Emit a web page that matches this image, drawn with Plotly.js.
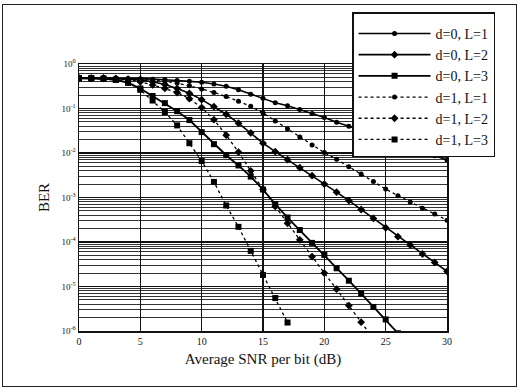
<!DOCTYPE html>
<html>
<head>
<meta charset="utf-8">
<script src="https://cdn.plot.ly/plotly-3.0.1.min.js"></script>
<style>
html,body{margin:0;padding:0;background:#fff;}
#frame{position:absolute;left:2px;top:4px;width:515px;height:383px;border:1.5px solid #222;box-sizing:border-box;pointer-events:none;z-index:5;}
#plot{position:absolute;left:0;top:0;width:521px;height:392px;}
</style>
</head>
<body>
<div id="plot"></div>
<div id="frame"></div>
<script>
// Average SNR per bit (dB)
const snr = [0,1,2,3,4,5,6,7,8,9,10,11,12,13,14,15,16,17,18,19,20,21,22,23,24,25,26,27,28,29,30];

// BER values
const ber_d0_L1 = [0.479,0.479,0.479,0.479,0.468,0.468,0.457,0.447,0.427,0.407,0.389,0.355,0.316,0.263,0.209,0.170,0.135,0.115,0.0955,0.0776,0.0631,0.0490,0.0398,0.0324,0.0263,0.0214,0.0170,0.0138,0.0110,0.00871,0.00692];
const ber_d0_L2 = [0.479,0.479,0.479,0.468,0.457,0.437,0.398,0.347,0.282,0.219,0.158,0.110,0.0741,0.0468,0.0282,0.0166,0.0107,0.00708,0.00468,0.00309,0.00200,0.00132,8.51e-4,5.37e-4,3.39e-4,2.09e-4,1.32e-4,8.51e-5,5.37e-5,3.47e-5,2.19e-5];
const ber_d0_L3 = [0.479,0.479,0.468,0.437,0.380,0.282,0.191,0.132,0.0871,0.0550,0.0295,0.0158,0.00891,0.00525,0.00295,0.00151,7.08e-4,3.55e-4,1.86e-4,9.55e-5,5.13e-5,2.57e-5,1.35e-5,6.92e-6,3.47e-6,1.82e-6,8.91e-7];
const ber_d1_L1 = [0.479,0.479,0.479,0.479,0.468,0.457,0.437,0.407,0.372,0.324,0.275,0.229,0.186,0.145,0.112,0.0794,0.0525,0.0347,0.0229,0.0151,0.0102,0.00724,0.00490,0.00339,0.00229,0.00155,0.00110,7.94e-4,5.75e-4,4.27e-4,3.09e-4];
const ber_d1_L2 = [0.479,0.479,0.479,0.468,0.447,0.398,0.339,0.282,0.229,0.166,0.105,0.0562,0.0251,0.0105,0.00398,0.00151,6.31e-4,2.63e-4,1.12e-4,4.68e-5,2.00e-5,8.71e-6,3.72e-6,1.58e-6,6.76e-7];
const ber_d1_L3 = [0.479,0.479,0.468,0.447,0.380,0.263,0.151,0.0832,0.0417,0.0166,0.00661,0.00224,6.61e-4,2.19e-4,6.31e-5,1.82e-5,5.50e-6,1.55e-6];

const seriesNames = ["d=0, L=1","d=0, L=2","d=0, L=3","d=1, L=1","d=1, L=2","d=1, L=3"];

const xTickVals = [0,5,10,15,20,25,30];
const xTickText = ["0","5","10","15","20","25","30"];
const yTickVals = [1,0.1,0.01,0.001,0.0001,0.00001,0.000001];
const yTickText = ["10<sup>0</sup>","10<sup>-1</sup>","10<sup>-2</sup>","10<sup>-3</sup>","10<sup>-4</sup>","10<sup>-5</sup>","10<sup>-6</sup>"];

const allBer = [ber_d0_L1, ber_d0_L2, ber_d0_L3, ber_d1_L1, ber_d1_L2, ber_d1_L3];
const dashes = ["solid","solid","solid","dot","dot","dot"];
const widths = [1.6,1.6,1.8,1.3,1.3,1.3];
const symbols = ["circle","diamond","square","circle","diamond","square"];
const sizes = [5,6,6,5,6,6];

const traces = allBer.map((b,i)=>({
  x: snr.slice(0,b.length),
  y: b,
  name: seriesNames[i],
  type: "scatter",
  mode: "lines+markers",
  line: {color:"#000", width: widths[i], dash: dashes[i]},
  marker: {color:"#000", symbol: symbols[i], size: sizes[i]},
  cliponaxis: true
}));

const serif = "Liberation Serif, Times New Roman, serif";

const layout = {
  width: 521, height: 392,
  margin: {l:79, r:74, t:62, b:61},
  paper_bgcolor: "#fff",
  plot_bgcolor: "#fff",
  showlegend: true,
  legend: {
    x: 0.742, y: 1.193, xanchor: "left", yanchor: "top",
    bgcolor: "#fff", bordercolor: "#111", borderwidth: 1.5,
    font: {family: serif, size: 14, color: "#111"},
    title: {text: " ", font: {family: serif, size: 3}},
    itemwidth: 72
  },
  xaxis: {
    range: [0,30],
    tickvals: xTickVals, ticktext: xTickText,
    showgrid: true, gridcolor: "#111", gridwidth: 1.5,
    zeroline: false,
    showline: true, linecolor: "#111", linewidth: 1.5, mirror: true,
    ticks: "",
    tickfont: {family: serif, size: 10, color: "#111"},
    title: {text: "Average SNR per bit (dB)", font: {family: serif, size: 15, color: "#111"}, standoff: 8}
  },
  yaxis: {
    type: "log",
    range: [-6, 0],
    tickvals: yTickVals, ticktext: yTickText,
    showgrid: true, gridcolor: "#111", gridwidth: 1.2,
    minor: {dtick: "D1", showgrid: true, gridcolor: "#333", gridwidth: 1, ticks: ""},
    showline: true, linecolor: "#111", linewidth: 1.5, mirror: true,
    ticks: "",
    tickfont: {family: serif, size: 9, color: "#111"},
    title: {text: "BER", font: {family: serif, size: 15, color: "#111"}, standoff: 8}
  }
};

Plotly.newPlot("plot", traces, layout, {displayModeBar: false, staticPlot: true});
</script>
</body>
</html>
